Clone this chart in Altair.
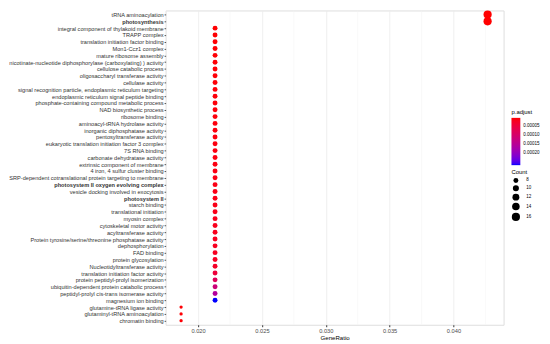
import altair as alt
import pandas as pd

terms = [
    "tRNA aminoacylation",
    "photosynthesis",
    "integral component of thylakoid membrane",
    "TRAPP complex",
    "translation initiation factor binding",
    "Mon1-Ccz1 complex",
    "mature ribosome assembly",
    "nicotinate-nucleotide diphosphorylase (carboxylating) ) activity",
    "cellulose catabolic process",
    "oligosaccharyl transferase activity",
    "cellulase activity",
    "signal recognition particle, endoplasmic reticulum targeting",
    "endoplasmic reticulum signal peptide binding",
    "phosphate-containing compound metabolic process",
    "NAD biosynthetic process",
    "ribosome binding",
    "aminoacyl-tRNA hydrolase activity",
    "inorganic diphosphatase activity",
    "pentosyltransferase activity",
    "eukaryotic translation initiation factor 3 complex",
    "7S RNA binding",
    "carbonate dehydratase activity",
    "extrinsic component of membrane",
    "4 iron, 4 sulfur cluster binding",
    "SRP-dependent cotranslational protein targeting to membrane",
    "photosystem II oxygen evolving complex",
    "vesicle docking involved in exocytosis",
    "photosystem II",
    "starch binding",
    "translational initiation",
    "myosin complex",
    "cytoskeletal motor activity",
    "acyltransferase activity",
    "Protein  tyrosine/serine/threonine phosphatase activity",
    "dephosphorylation",
    "FAD binding",
    "protein glycosylation",
    "Nucleotidyltransferase activity",
    "translation initiation factor activity",
    "protein peptidyl-prolyl isomerization",
    "ubiquitin-dependent protein catabolic process",
    "peptidyl-prolyl cis-trans isomerase activity",
    "magnesium ion binding",
    "glutamine-tRNA ligase activity",
    "glutaminyl-tRNA aminoacylation",
    "chromatin binding",
]

counts = [16, 16] + [8] * 41 + [7, 7, 7]
gene_ratio = [0.04267, 0.04267] + [0.02133] * 41 + [0.01867, 0.01867, 0.01867]
p_adjust = [
    1.0e-6, 1.2e-6,
    2.0e-6, 2.3e-6, 2.6e-6, 2.9e-6, 3.2e-6, 3.5e-6, 3.8e-6, 4.1e-6,
    4.4e-6, 4.7e-6, 5.0e-6, 5.4e-6, 5.8e-6, 6.2e-6, 6.6e-6, 7.0e-6,
    7.5e-6, 8.0e-6, 8.5e-6, 9.0e-6, 9.5e-6, 1.0e-5, 1.05e-5, 1.1e-5,
    1.15e-5, 1.2e-5, 1.3e-5, 1.4e-5, 1.5e-5, 1.6e-5, 1.7e-5, 1.8e-5,
    1.9e-5, 2.0e-5, 2.2e-5, 2.5e-5,
    4.5e-5, 8.0e-5, 1.15e-4, 1.6e-4, 2.7e-4,
    3.0e-6, 3.0e-6, 3.0e-6,
]
bold_terms = ["photosynthesis", "photosystem II oxygen evolving complex", "photosystem II"]

x_ticks = [0.020, 0.025, 0.030, 0.035, 0.040]
x_minor = [0.0175, 0.0225, 0.0275, 0.0325, 0.0375, 0.0425]
p_ticks = [0.00005, 0.00010, 0.00015, 0.00020]
count_ticks = [8, 10, 12, 14, 16]

df = pd.DataFrame({"term": terms, "GeneRatio": gene_ratio, "Count": counts, "padj": p_adjust})
minor_df = pd.DataFrame({"x": x_minor})

xdom = [0.01746, 0.04392]
FONT = "Liberation Sans"

bold_list = ",".join("'" + t + "'" for t in bold_terms)
weight_expr = f"indexof([{bold_list}], datum.value) >= 0 ? 'bold' : 'normal'"

xscale = alt.Scale(domain=xdom, nice=False, zero=False)

minor = alt.Chart(minor_df).mark_rule(color="#F2F2F2", strokeWidth=0.5).encode(
    x=alt.X("x:Q", scale=xscale)
)

points = alt.Chart(df).mark_circle(opacity=1).encode(
    x=alt.X(
        "GeneRatio:Q",
        scale=xscale,
        axis=alt.Axis(
            values=x_ticks, format=".3f", title="GeneRatio",
            labelFontSize=5.8, labelColor="#4D4D4D", titleFontSize=6.2,
            titleFontWeight="normal", titleColor="#000", titlePadding=1,
            tickSize=2, tickColor="#333", labelPadding=1, domain=False,
            gridColor="#EBEBEB", gridWidth=0.8, labelFont=FONT, titleFont=FONT,
        ),
    ),
    y=alt.Y(
        "term:N",
        sort=terms,
        scale=alt.Scale(padding=0.6),
        axis=alt.Axis(
            title=None, labelFontSize=5.7, labelColor="#333", labelFont=FONT,
            labelFontWeight={"expr": weight_expr},
            tickSize=1.5, tickColor="#333", labelPadding=1, domain=False,
            gridColor="#EBEBEB", gridWidth=0.8, labelLimit=400,
        ),
    ),
    color=alt.Color(
        "padj:Q",
        title="p.adjust",
        scale=alt.Scale(domain=[max(p_adjust), min(p_adjust)], range=["blue", "red"], interpolate="lab"),
        legend=alt.Legend(
            orient="none", legendX=351, legendY=100, values=p_ticks, format=".5f",
            titleFontSize=6, titleFontWeight="normal", titleFont=FONT,
            labelFontSize=4.6, labelFont=FONT, gradientLength=48, gradientThickness=9,
            titlePadding=3, labelOffset=3, direction="vertical",
        ),
    ),
    size=alt.Size(
        "Count:Q",
        scale=alt.Scale(domain=[7, 8, 10, 12, 14, 16], range=[11, 25, 38, 49, 59, 69]),
        legend=alt.Legend(
            orient="none", legendX=351, legendY=161, values=count_ticks,
            title="Count", titleFontSize=6, titleFontWeight="normal", titleFont=FONT,
            labelFontSize=4.6, labelFont=FONT, symbolFillColor="black",
            symbolStrokeWidth=0, symbolOpacity=1, rowPadding=2, labelOffset=6,
            titlePadding=3,
        ),
    ),
    order=alt.Order("Count:Q"),
)

chart = (
    alt.layer(minor, points)
    .properties(
        width=343, height=319,
        autosize=alt.AutoSizeParams(type="none"),
        padding={"left": 160, "top": 0, "right": 39, "bottom": 16},
    )
    .configure_view(stroke="#888", strokeWidth=0.8)
    .configure(background="white")
)

chart.save("out.html", embed_options={"renderer": "svg", "actions": False})
